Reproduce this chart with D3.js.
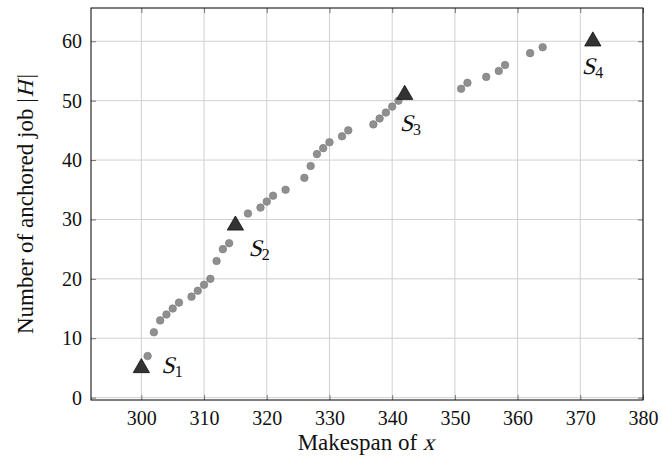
<!DOCTYPE html>
<html><head><meta charset="utf-8">
<script src="https://cdn.jsdelivr.net/npm/d3@7"></script>
<style>body{margin:0;background:#fff} text{white-space:pre}</style>
</head><body>
<script>
const dotX = [301,302,303,304,305,306,308,309,310,311,312,313,314,317,319,320,321,323,326,327,328,329,330,332,333,337,338,339,340,341,351,352,355,357,358,362,364];
const dotY = [7,11,13,14,15,16,17,18,19,20,23,25,26,31,32,33,34,35,37,39,41,42,43,44,45,46,47,48,49,50,52,53,54,55,56,58,59];
const solX = [300,315,342,372];
const solY = [5,29,51,60];
const solLabels = ["1","2","3","4"];
const xTicks = [300,310,320,330,340,350,360,370,380];
const yTicks = [0,10,20,30,40,50,60];
const xTitle = "Makespan of ";
const yTitle = "Number of anchored job ";

const W=662,H=464;
const m={l:91,r:19,t:8,b:64};
const x=d3.scaleLinear().domain([291.97,380]).range([m.l,W-m.r]);
const y=d3.scaleLinear().domain([-0.4,65.6]).range([H-m.b,m.t]);
const svg=d3.select("body").append("svg").attr("width",W).attr("height",H);
const font="'Liberation Serif','DejaVu Serif',serif";

// rich text: pieces placed sequentially; italic faked by skew of upright serif
function rich(parent, pieces, anchor){
  const g=parent.append("g");
  let cx=0;
  pieces.forEach(p=>{
    const t=g.append("text").attr("font-family",font).attr("font-size",p.size).attr("fill","#111").text(p.text);
    const w=t.node().getComputedTextLength();
    const dy=p.dy||0;
    if(p.italic){t.attr("transform",`translate(${cx},${dy}) skewX(-14)`);}
    else t.attr("transform",`translate(${cx},${dy})`);
    cx+=w+(p.after||0);
  });
  if(anchor==="middle") g.selectAll("text").each(function(){const tr=d3.select(this).attr("transform");d3.select(this).attr("transform",`translate(${-cx/2},0) `+tr);});
  return g;
}

// grid
const g=svg.append("g");
g.selectAll(".gx").data(xTicks).join("line").attr("x1",d=>x(d)).attr("x2",d=>x(d)).attr("y1",m.t).attr("y2",H-m.b).attr("stroke","#d0d0d0").attr("stroke-width",1);
g.selectAll(".gy").data(yTicks).join("line").attr("x1",m.l).attr("x2",W-m.r).attr("y1",d=>y(d)).attr("y2",d=>y(d)).attr("stroke","#d0d0d0").attr("stroke-width",1);

// axes with inward ticks
const axB=d3.axisBottom(x).tickValues(xTicks).tickSizeInner(-5).tickSizeOuter(0).tickPadding(11);
const axT=d3.axisTop(x).tickValues(xTicks).tickSizeInner(-5).tickSizeOuter(0).tickFormat("");
const axL=d3.axisLeft(y).tickValues(yTicks).tickSizeInner(-5).tickSizeOuter(0).tickPadding(9);
const axR=d3.axisRight(y).tickValues(yTicks).tickSizeInner(-5).tickSizeOuter(0).tickFormat("");
function style(sel){sel.select(".domain").remove();sel.selectAll(".tick line").attr("stroke","#777");sel.selectAll("text").attr("font-family",font).attr("font-size",20).attr("fill","#111");}
svg.append("g").attr("transform",`translate(0,${H-m.b})`).call(axB).call(style);
svg.append("g").attr("transform",`translate(0,${m.t})`).call(axT).call(style);
svg.append("g").attr("transform",`translate(${m.l},0)`).call(axL).call(style);
svg.append("g").attr("transform",`translate(${W-m.r},0)`).call(axR).call(style);

// border
svg.append("rect").attr("x",m.l).attr("y",m.t).attr("width",W-m.l-m.r).attr("height",H-m.t-m.b).attr("fill","none").attr("stroke","#000").attr("stroke-width",1);

// dots
svg.append("g").selectAll("circle").data(dotX.map((d,i)=>[d,dotY[i]])).join("circle")
 .attr("cx",d=>x(d[0])).attr("cy",d=>y(d[1])).attr("r",3.8).attr("fill","#8f8f8f").attr("stroke","#7a7a7a").attr("stroke-width",0.6);

// triangles
const tri=d3.symbol().type(d3.symbolTriangle).size(115);
const sols=solX.map((d,i)=>({x:d,y:solY[i],lab:solLabels[i]}));
svg.append("g").selectAll("path").data(sols).join("path")
 .attr("transform",d=>`translate(${x(d.x)},${y(d.y)})`).attr("d",tri).attr("fill","#333").attr("stroke","#111").attr("stroke-width",0.8);

// labels
const off=[[20,5],[13,31],[-5,36],[-11,33]];
sols.forEach((d,i)=>{
  rich(svg,[{text:"S",italic:true,size:24,after:0},{text:d.lab,size:16,dy:4}])
    .attr("transform",`translate(${x(d.x)+off[i][0]},${y(d.y)+off[i][1]})`);
});

// axis titles
rich(svg,[{text:xTitle,size:23},{text:"x",italic:true,size:23}],"middle").attr("transform","translate(366,450)");
rich(svg,[{text:yTitle+"|",size:23,after:1},{text:"H",italic:true,size:23,after:2},{text:"|",size:23}],"middle")
  .attr("transform",`translate(33,${(m.t+H-m.b)/2}) rotate(-90)`);
</script>
</body></html>
